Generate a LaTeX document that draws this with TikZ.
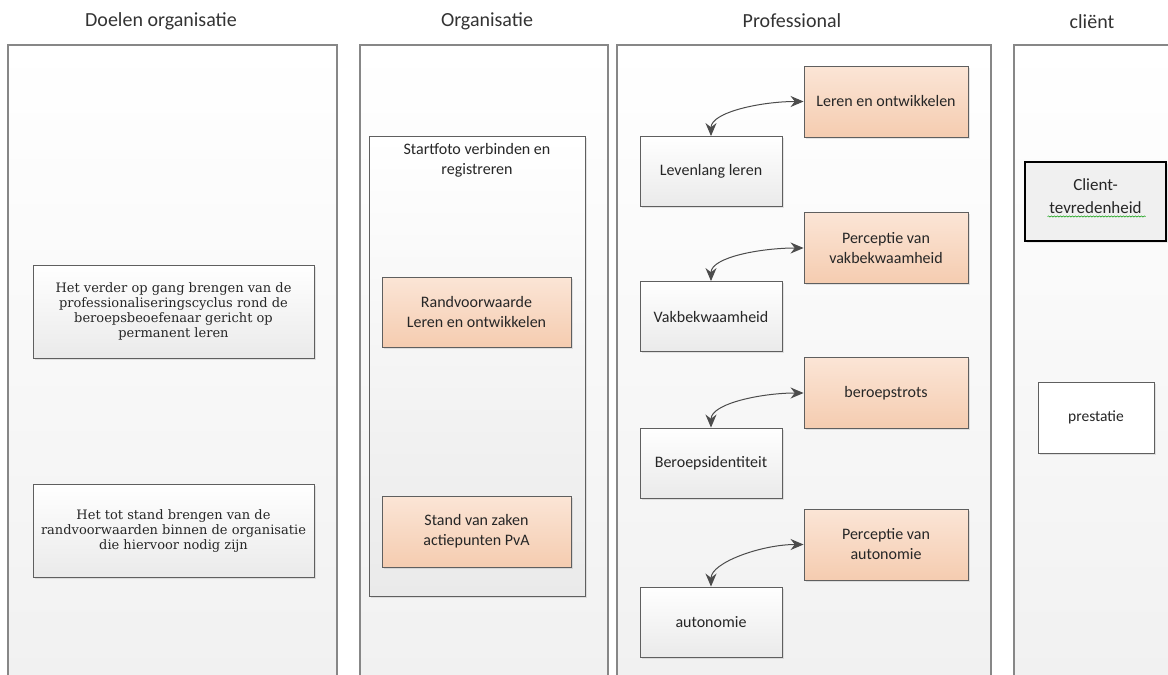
\documentclass[tikz,border=0pt]{standalone}
\usepackage{fontspec}
\setmainfont{Carlito}
\newfontfamily\slabfont{DejaVu Serif}
\usepackage{tikz}
\usetikzlibrary{arrows.meta, shadows, decorations.pathmorphing}
\usepackage{xcolor}
\definecolor{colfill}{RGB}{241,241,241}
\definecolor{colline}{RGB}{135,135,135}
\definecolor{boxline}{RGB}{95,95,95}
\definecolor{peachtop}{RGB}{251,229,214}
\definecolor{peachbot}{RGB}{245,204,176}
\definecolor{greybot}{RGB}{234,234,234}

\begin{document}
\begin{tikzpicture}[x=1pt, y=-1pt,
    column/.style={draw=colline, line width=1.4pt},
    header/.style={font=\fontsize{20}{24}\selectfont, text=black!80},
    whitebox/.style={draw=boxline, line width=0.9pt, top color=white, bottom color=greybot,
        drop shadow={opacity=0.2, shadow xshift=1.5pt, shadow yshift=-1.5pt},
        minimum width=142, minimum height=70, align=center, text=black!85,
        font=\fontsize{16}{20}\selectfont},
    peachbox/.style={whitebox, top color=peachtop, bottom color=peachbot,
        minimum width=164, minimum height=71},
    goalbox/.style={whitebox, minimum width=281, minimum height=93,
        font=\slabfont\fontsize{13}{14.8}\selectfont},
    twoway/.style={{Stealth[length=13pt,width=11pt]}-{Stealth[length=13pt,width=11pt]},
        draw=black!70, line width=1pt}
]
    \useasboundingbox (0,0) rectangle (1168,675);
    \clip (0,0) rectangle (1168,675);

    % kolommen
    \foreach \xa/\xb in {8/337, 360/608, 617/991, 1014/1185} {
        \shade[top color=white, bottom color=colfill] (\xa,45) rectangle (\xb,680);
        \draw[column] (\xa,680) -- (\xa,45) -- (\xb,45) -- (\xb,680);
    }

    % koppen
    \node[header] (hdoel) at (161,21) {Doelen organisatie};
    \node[header] (horg) at (487,21) {Organisatie};
    \node[header] (hprof) at (792,21) {Professional};
    \node[header] (hclient) at (1092,22) {cliënt};

    % doelen
    \node[goalbox] (doel1) at (173.5,311.5) {Het verder op gang brengen van de\\professionaliseringscyclus rond de\\beroepsbeoefenaar gericht op\\permanent leren};
    \node[goalbox] (doel2) at (173.5,531) {Het tot stand brengen van de\\randvoorwaarden binnen de organisatie\\die hiervoor nodig zijn};

    % organisatie
    \node[whitebox, minimum width=216, minimum height=460] (startfoto) at (477,366) {};
    \node[align=center, anchor=north, text=black!85, font=\fontsize{16}{20}\selectfont] (startfototxt) at ([yshift=-4pt]startfoto.north) {Startfoto verbinden en\\registreren};
    \node[peachbox, minimum width=189, minimum height=70] (randvw) at (476.5,312) {Randvoorwaarde\\Leren en ontwikkelen};
    \node[peachbox, minimum width=189, minimum height=71] (stand) at (476.5,531.5) {Stand van zaken\\actiepunten PvA};

    % professional
    \node[peachbox] (leren) at (886,101.5) {Leren en ontwikkelen};
    \node[whitebox] (levenlang) at (711,171.5) {Levenlang leren};
    \node[peachbox] (pvak) at (886,248) {Perceptie van\\vakbekwaamheid};
    \node[whitebox] (vakbekw) at (711,316.5) {Vakbekwaamheid};
    \node[peachbox] (trots) at (886,393) {beroepstrots};
    \node[whitebox] (identiteit) at (711,463) {Beroepsidentiteit};
    \node[peachbox] (paut) at (886,544.5) {Perceptie van\\autonomie};
    \node[whitebox] (autonomie) at (711,622) {autonomie};

    \draw[twoway] (levenlang.north) .. controls +(0,-24) and +(-42,0) .. (leren.west);
    \draw[twoway] (vakbekw.north) .. controls +(0,-24) and +(-42,0) .. (pvak.west);
    \draw[twoway] (identiteit.north) .. controls +(0,-24) and +(-42,0) .. (trots.west);
    \draw[twoway] (autonomie.north) .. controls +(0,-24) and +(-42,0) .. (paut.west);

    % client
    \node[draw=black, line width=2pt, fill=black!6, minimum width=141, minimum height=79,
        drop shadow={opacity=0.15, shadow xshift=1.5pt, shadow yshift=-2pt}] (tevred) at (1095.5,201.5) {};
    \node[align=center, text=black!85, font=\fontsize{17}{23}\selectfont] (tevredtxt) at ([yshift=5pt]tevred.center) {Client-\\tevredenheid};
    \draw[green!60!black, line width=0.5pt, decorate, decoration={snake, amplitude=0.6pt, segment length=3pt}]
        ([xshift=-48pt,yshift=-15pt]tevred.center) -- ([xshift=50pt,yshift=-15pt]tevred.center);
    \node[whitebox, bottom color=white, minimum width=116, minimum height=71,
        font=\fontsize{15.5}{18}\selectfont] (prestatie) at (1096,417.5) {prestatie};
\end{tikzpicture}
\end{document}
